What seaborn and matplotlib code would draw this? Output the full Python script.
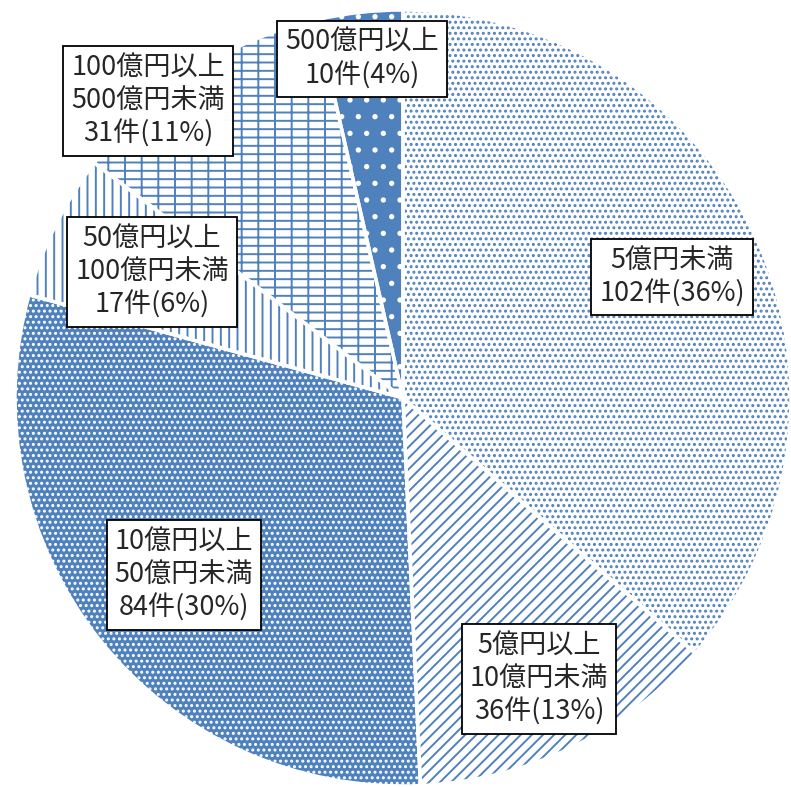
import matplotlib
matplotlib.use('Agg')
import matplotlib.pyplot as plt
import seaborn as sns

sns.set_style('white')
plt.rcParams['font.family'] = ['Noto Sans CJK JP', 'DejaVu Sans']
plt.rcParams['hatch.linewidth'] = 1.4

labels = ['5億円未満', '5億円以上\n10億円未満', '10億円以上\n50億円未満',
          '50億円以上\n100億円未満', '100億円以上\n500億円未満', '500億円以上']
counts = [102, 36, 84, 17, 31, 10]
pcts = [36, 13, 30, 6, 11, 4]

blue = '#4f81bd'
faces = ['white', 'white', blue, 'white', 'white', blue]
hatch_cols = [blue, blue, 'white', blue, blue, 'white']
hatches = ['...', '///', '...', '||', '--|', '.']

# label box centres in pixels (x, y from top)
label_pos = [(672, 277), (539, 679), (184, 575), (152, 272), (148, 101), (362, 59)]

W, H = 791, 787
fig = plt.figure(figsize=(W / 100, H / 100), dpi=100)
ax = fig.add_axes([15 / W, 1 / H, 776 / W, 776 / H])

wedges, _ = ax.pie(counts, startangle=90, counterclock=False, radius=1,
                   wedgeprops=dict(linewidth=0))
for w, fc, hc, h in zip(wedges, faces, hatch_cols, hatches):
    w.set_facecolor(fc)
    w.set_edgecolor(hc)
    w.set_hatch(h)

# white separators
ax.pie(counts, startangle=90, counterclock=False, radius=1,
       wedgeprops=dict(facecolor='none', edgecolor='white', linewidth=2.5))
ax.set_xlim(-1, 1)
ax.set_ylim(-1, 1)
ax.axis('off')

for lab, c, p, (x, y) in zip(labels, counts, pcts, label_pos):
    fig.text(x / W, 1 - y / H, f'{lab}\n{c}件({p}%)', ha='center', va='center',
             fontsize=19.5, linespacing=1.25,
             bbox=dict(boxstyle='square,pad=0.3', facecolor='white',
                       edgecolor='black', linewidth=1.3))

fig.savefig('out.png', dpi=100)
